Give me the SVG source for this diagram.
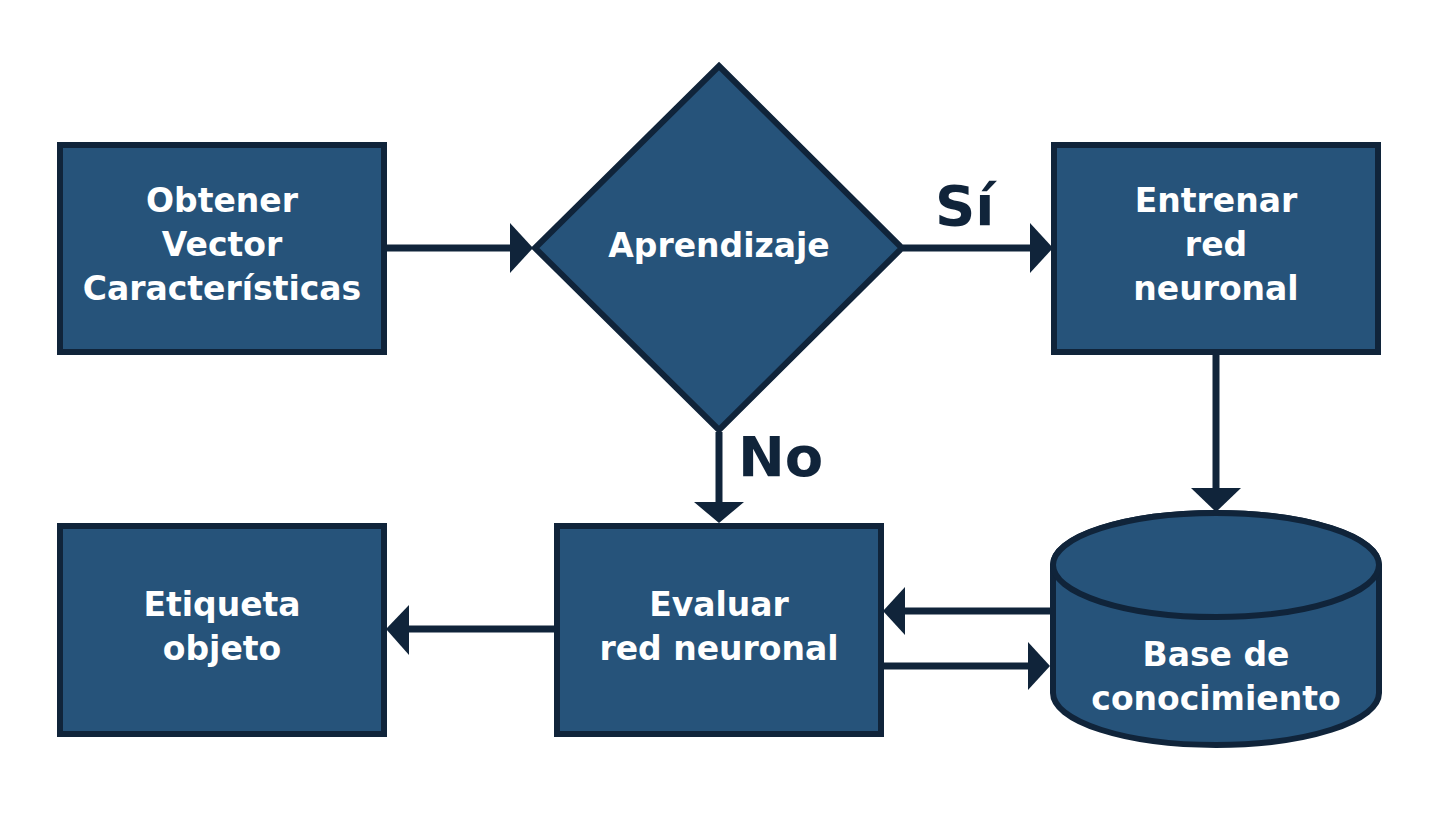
<svg xmlns="http://www.w3.org/2000/svg" width="1439" height="813" viewBox="0 0 1439 813">
<defs>
<style>
.n{fill:#26537a;stroke:#10243a;stroke-width:6}
.t{fill:#ffffff;font-family:"DejaVu Sans",sans-serif;font-weight:bold;font-size:33px;text-anchor:middle}
.l{fill:#10243a;font-family:"DejaVu Sans",sans-serif;font-weight:bold;font-size:56px;text-anchor:start}
.c{stroke:#10243a;stroke-width:7;fill:none}
.h{fill:#10243a}
</style>
</defs>
<rect width="1439" height="813" fill="#ffffff"/>
<g id="connectors">
<line class="c" x1="386" y1="248" x2="512" y2="248"/>
<polygon class="h" points="510,223 533,248 510,273"/>
<line class="c" x1="903" y1="248" x2="1032" y2="248"/>
<polygon class="h" points="1030,223 1053,248 1030,273"/>
<line class="c" x1="719" y1="432" x2="719" y2="504"/>
<polygon class="h" points="694,502 744,502 719,523"/>
<line class="c" x1="1216" y1="354" x2="1216" y2="490"/>
<polygon class="h" points="1191,488 1241,488 1216,512"/>
<line class="c" x1="1053" y1="611" x2="903" y2="611"/>
<polygon class="h" points="905,587 883,611 905,635"/>
<line class="c" x1="883" y1="666" x2="1030" y2="666"/>
<polygon class="h" points="1028,642 1050,666 1028,690"/>
<line class="c" x1="555" y1="629" x2="407" y2="629"/>
<polygon class="h" points="409,605 386,629 409,655"/>
</g>
<g id="node-obtener">
<rect class="n" x="60" y="145" width="324" height="207"/>
<text class="t" x="222" y="212">Obtener</text>
<text class="t" x="222" y="256">Vector</text>
<text class="t" x="222" y="300">Características</text>
</g>
<g id="node-aprendizaje">
<polygon class="n" points="719,66 902,248 719,430 535,248"/>
<text class="t" x="719" y="257">Aprendizaje</text>
</g>
<g id="node-entrenar">
<rect class="n" x="1054" y="145" width="324" height="207"/>
<text class="t" x="1216" y="212">Entrenar</text>
<text class="t" x="1216" y="256">red</text>
<text class="t" x="1216" y="300">neuronal</text>
</g>
<g id="node-etiqueta">
<rect class="n" x="60" y="526" width="324" height="208"/>
<text class="t" x="222" y="616">Etiqueta</text>
<text class="t" x="222" y="660">objeto</text>
</g>
<g id="node-evaluar">
<rect class="n" x="557" y="526" width="324" height="208"/>
<text class="t" x="719" y="616">Evaluar</text>
<text class="t" x="719" y="660">red neuronal</text>
</g>
<g id="node-base">
<path class="n" d="M1053,565 L1053,693 A163,52 0 0 0 1379,693 L1379,565 A163,52 0 0 0 1053,565 Z"/>
<ellipse class="n" cx="1216" cy="565" rx="163" ry="52"/>
<text class="t" x="1216" y="666">Base de</text>
<text class="t" x="1216" y="710">conocimiento</text>
</g>
<g id="labels">
<text class="l" x="935" y="225">Sí</text>
<text class="l" x="738" y="476">No</text>
</g>
</svg>
